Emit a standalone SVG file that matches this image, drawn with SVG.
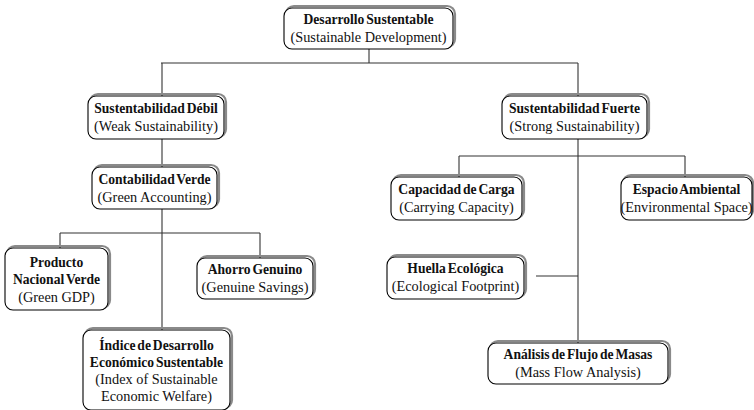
<svg xmlns="http://www.w3.org/2000/svg" width="754" height="410" viewBox="0 0 754 410">
<style>
.sh{fill:none;stroke:#8a8a8a;stroke-width:2.2}
.bx{fill:#fff;stroke:#000;stroke-width:1.1}
text{font-family:"Liberation Serif","Times New Roman",serif;font-size:14.3px;text-anchor:middle;fill:#111}
.b{font-weight:bold;font-size:13.6px;word-spacing:-1.5px}
.c line{stroke:#333;stroke-width:1.1}
</style>
<rect width="754" height="410" fill="#fff"/>
<g class="c" id="connectors">
<line x1="369" y1="49" x2="369" y2="63"/>
<line x1="161" y1="63" x2="578" y2="63"/>
<line x1="162" y1="63" x2="162" y2="96"/>
<line x1="162" y1="139" x2="162" y2="167"/>
<line x1="162" y1="209" x2="162" y2="330"/>
<line x1="60" y1="233" x2="260" y2="233"/>
<line x1="60" y1="233" x2="60" y2="248"/>
<line x1="260" y1="233" x2="260" y2="258"/>
<line x1="578" y1="63" x2="578" y2="96"/>
<line x1="578" y1="139" x2="578" y2="343"/>
<line x1="459" y1="156" x2="685" y2="156"/>
<line x1="459" y1="156" x2="459" y2="177"/>
<line x1="685" y1="156" x2="685" y2="177"/>
<line x1="536" y1="276" x2="578" y2="276"/>
</g>
<g id="root">
<rect class="sh" x="286" y="6" width="169" height="41" rx="8"/>
<rect class="bx" x="284" y="8" width="169" height="41" rx="8"/>
<text class="b" x="368.5" y="24">Desarrollo Sustentable</text>
<text x="368.5" y="42">(Sustainable Development)</text>
</g>
<g id="weak">
<rect class="sh" x="90" y="94" width="136" height="43" rx="8"/>
<rect class="bx" x="88" y="96" width="136" height="43" rx="8"/>
<text class="b" x="156" y="113">Sustentabilidad Débil</text>
<text x="156" y="131">(Weak Sustainability)</text>
</g>
<g id="strong">
<rect class="sh" x="504" y="94" width="145" height="43" rx="8"/>
<rect class="bx" x="502" y="96" width="145" height="43" rx="8"/>
<text class="b" x="574.5" y="113">Sustentabilidad Fuerte</text>
<text x="574.5" y="131">(Strong Sustainability)</text>
</g>
<g id="contab">
<rect class="sh" x="94" y="165" width="125" height="42" rx="8"/>
<rect class="bx" x="92" y="167" width="125" height="42" rx="8"/>
<text class="b" x="154.5" y="184">Contabilidad Verde</text>
<text x="154.5" y="202">(Green Accounting)</text>
</g>
<g id="capac">
<rect class="sh" x="393" y="175" width="131" height="43" rx="8"/>
<rect class="bx" x="391" y="177" width="131" height="43" rx="8"/>
<text class="b" x="456.5" y="194">Capacidad de Carga</text>
<text x="456.5" y="212">(Carrying Capacity)</text>
</g>
<g id="espacio">
<rect class="sh" x="623" y="175" width="130" height="43" rx="8"/>
<rect class="bx" x="621" y="177" width="131" height="43" rx="8"/>
<text class="b" x="686.5" y="194">Espacio Ambiental</text>
<text x="686.5" y="212">(Environmental Space)</text>
</g>
<g id="producto">
<rect class="sh" x="7" y="246" width="103" height="62" rx="8"/>
<rect class="bx" x="5" y="248" width="103" height="62" rx="8"/>
<text class="b" x="56.5" y="267">Producto</text>
<text class="b" x="56.5" y="284">Nacional Verde</text>
<text x="56.5" y="302">(Green GDP)</text>
</g>
<g id="ahorro">
<rect class="sh" x="199" y="256" width="116" height="41" rx="8"/>
<rect class="bx" x="197" y="258" width="116" height="41" rx="8"/>
<text class="b" x="255" y="274">Ahorro Genuino</text>
<text x="255" y="292">(Genuine Savings)</text>
</g>
<g id="indice">
<rect class="sh" x="85" y="328" width="147" height="80" rx="8"/>
<rect class="bx" x="83" y="330" width="147" height="80" rx="8"/>
<text class="b" x="156.5" y="350">Índice de Desarrollo</text>
<text class="b" x="156.5" y="367">Económico Sustentable</text>
<text x="156.5" y="384">(Index of Sustainable</text>
<text x="156.5" y="401">Economic Welfare)</text>
</g>
<g id="huella">
<rect class="sh" x="389" y="255" width="137" height="42" rx="8"/>
<rect class="bx" x="387" y="257" width="137" height="42" rx="8"/>
<text class="b" x="455.5" y="273">Huella Ecológica</text>
<text x="455.5" y="291">(Ecological Footprint)</text>
</g>
<g id="analisis">
<rect class="sh" x="490" y="341" width="180" height="41" rx="8"/>
<rect class="bx" x="488" y="343" width="180" height="41" rx="8"/>
<text class="b" x="578" y="359">Análisis de Flujo de Masas</text>
<text x="578" y="377">(Mass Flow Analysis)</text>
</g>
</svg>
